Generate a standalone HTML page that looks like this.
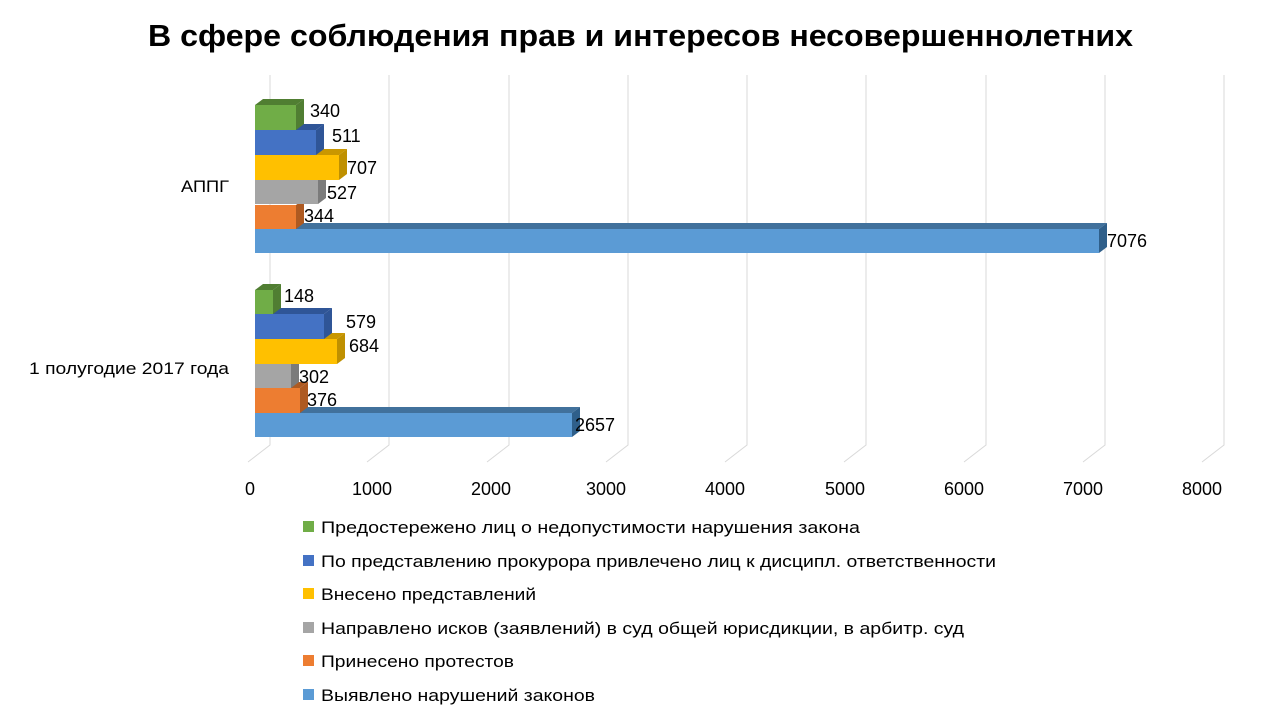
<!DOCTYPE html>
<html><head><meta charset="utf-8"><style>
body{margin:0;background:#fff}
svg{display:block;font-family:"Liberation Sans","DejaVu Sans",sans-serif}
</style></head><body>
<svg width="1280" height="720" viewBox="0 0 1280 720" xmlns="http://www.w3.org/2000/svg">
<rect width="1280" height="720" fill="#fff"/>
<text x="148" y="46" textLength="985" lengthAdjust="spacingAndGlyphs" font-size="31" font-weight="bold" fill="#000">В сфере соблюдения прав и интересов несовершеннолетних</text>
<g stroke="#d9d9d9" stroke-width="1" fill="none">
<path d="M270 75V445L248 462"/><path d="M389 75V445L367 462"/><path d="M509 75V445L487 462"/><path d="M628 75V445L606 462"/><path d="M747 75V445L725 462"/><path d="M866 75V445L844 462"/><path d="M986 75V445L964 462"/><path d="M1105 75V445L1083 462"/><path d="M1224 75V445L1202 462"/>
</g>
<g font-size="18" fill="#000" text-anchor="middle">
<text x="250" y="495">0</text><text x="372" y="495">1000</text><text x="491" y="495">2000</text><text x="606" y="495">3000</text><text x="725" y="495">4000</text><text x="845" y="495">5000</text><text x="964" y="495">6000</text><text x="1083" y="495">7000</text><text x="1202" y="495">8000</text>
</g>
<g font-size="17" fill="#000">
<text x="181" y="192" textLength="48" lengthAdjust="spacingAndGlyphs">АППГ</text>
<text x="29" y="374" textLength="200" lengthAdjust="spacingAndGlyphs">1 полугодие 2017 года</text>
</g>
<g>
<polygon points="255,229 263,223 1107,223 1099,229" fill="#41719c"/>
<polygon points="1099,229 1107,223 1107,247 1099,253" fill="#2f5f8a"/>
<rect x="255" y="229" width="844" height="24" fill="#5b9bd5"/>
<polygon points="296,205 304,199 304,223 296,229" fill="#ae5a21"/>
<rect x="255" y="205" width="41" height="24" fill="#ed7d31"/>
<polygon points="318,180 326,174 326,198 318,204" fill="#7b7b7b"/>
<rect x="255" y="180" width="63" height="24" fill="#a5a5a5"/>
<polygon points="255,155 263,149 347,149 339,155" fill="#c99700"/>
<polygon points="339,155 347,149 347,174 339,180" fill="#bf9000"/>
<rect x="255" y="155" width="84" height="25" fill="#ffc000"/>
<polygon points="255,130 263,124 324,124 316,130" fill="#2f5597"/>
<polygon points="316,130 324,124 324,149 316,155" fill="#2f5597"/>
<rect x="255" y="130" width="61" height="25" fill="#4472c4"/>
<polygon points="255,105 263,99 304,99 296,105" fill="#507e32"/>
<polygon points="296,105 304,99 304,124 296,130" fill="#507e32"/>
<rect x="255" y="105" width="41" height="25" fill="#70ad47"/>
</g>
<g font-size="18" fill="#000">
<text x="310" y="117">340</text><text x="332" y="142">511</text><text x="347" y="174">707</text><text x="327" y="199">527</text><text x="304" y="222">344</text><text x="1107" y="247">7076</text>
</g>
<g>
<polygon points="255,413 263,407 580,407 572,413" fill="#41719c"/>
<polygon points="572,413 580,407 580,431 572,437" fill="#2f5f8a"/>
<rect x="255" y="413" width="317" height="24" fill="#5b9bd5"/>
<polygon points="300,388 308,382 308,407 300,413" fill="#ae5a21"/>
<polygon points="255,388 263,382 308,382 300,388" fill="#ae5a21"/>
<rect x="255" y="388" width="45" height="25" fill="#ed7d31"/>
<polygon points="291,364 299,358 299,382 291,388" fill="#7b7b7b"/>
<rect x="255" y="364" width="36" height="24" fill="#a5a5a5"/>
<polygon points="337,339 345,333 345,358 337,364" fill="#bf9000"/>
<polygon points="255,339 263,333 345,333 337,339" fill="#c99700"/>
<rect x="255" y="339" width="82" height="25" fill="#ffc000"/>
<polygon points="255,314 263,308 332,308 324,314" fill="#2f5597"/>
<polygon points="324,314 332,308 332,333 324,339" fill="#2f5597"/>
<rect x="255" y="314" width="69" height="25" fill="#4472c4"/>
<polygon points="255,290 263,284 281,284 273,290" fill="#507e32"/>
<polygon points="273,290 281,284 281,308 273,314" fill="#507e32"/>
<rect x="255" y="290" width="18" height="24" fill="#70ad47"/>
</g>
<g font-size="18" fill="#000">
<text x="284" y="302">148</text><text x="346" y="328">579</text><text x="349" y="352">684</text><text x="299" y="383">302</text><text x="307" y="406">376</text><text x="575" y="431">2657</text>
</g>
<g>
<rect x="303" y="521" width="11" height="11" fill="#70ad47"/>
<rect x="303" y="555" width="11" height="11" fill="#4472c4"/>
<rect x="303" y="588" width="11" height="11" fill="#ffc000"/>
<rect x="303" y="622" width="11" height="11" fill="#a5a5a5"/>
<rect x="303" y="655" width="11" height="11" fill="#ed7d31"/>
<rect x="303" y="689" width="11" height="11" fill="#5b9bd5"/>
</g>
<g font-size="17" fill="#000" lengthAdjust="spacingAndGlyphs">
<text x="321" y="533" textLength="539" lengthAdjust="spacingAndGlyphs">Предостережено лиц о недопустимости нарушения  закона</text>
<text x="321" y="567" textLength="675" lengthAdjust="spacingAndGlyphs">По представлению прокурора привлечено лиц к дисципл. ответственности</text>
<text x="321" y="600" textLength="215" lengthAdjust="spacingAndGlyphs">Внесено представлений</text>
<text x="321" y="634" textLength="643" lengthAdjust="spacingAndGlyphs">Направлено исков (заявлений) в суд общей юрисдикции, в арбитр. суд</text>
<text x="321" y="667" textLength="193" lengthAdjust="spacingAndGlyphs">Принесено протестов</text>
<text x="321" y="701" textLength="274" lengthAdjust="spacingAndGlyphs">Выявлено нарушений законов</text>
</g>
</svg>
</body></html>
